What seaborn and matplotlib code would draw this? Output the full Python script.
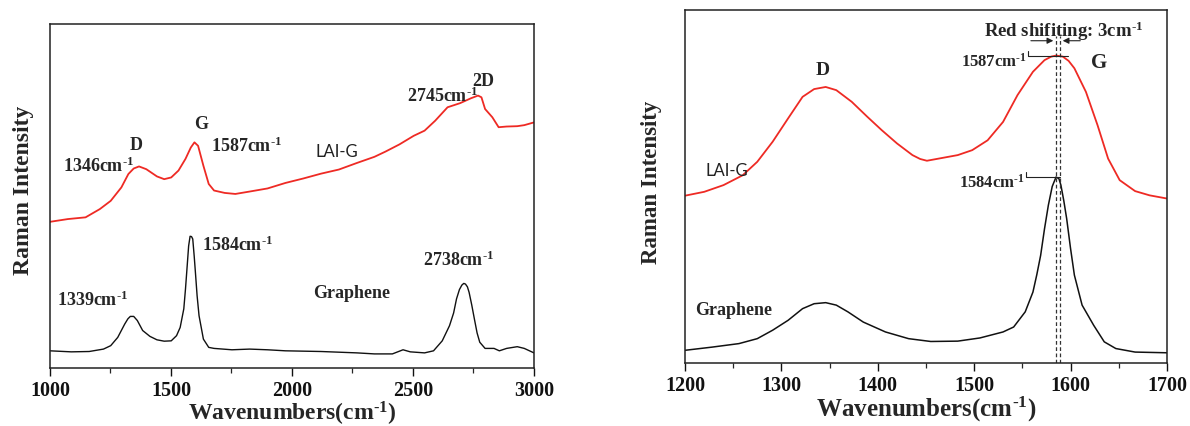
import numpy as np
import matplotlib
matplotlib.use("Agg")
import matplotlib.pyplot as plt
import seaborn as sns

# ---- left panel: full Raman spectra (1000-3000 cm-1), intensity in arbitrary units
full_wn_lai = [1000, 1074, 1147, 1206, 1251, 1295, 1324, 1346, 1368, 1398, 1442, 1472,
               1501, 1531, 1560, 1582, 1597, 1612, 1634, 1656, 1678, 1722, 1766, 1825,
               1899, 1973, 2047, 2120, 2194, 2268, 2341, 2386, 2444, 2503, 2548, 2592,
               2643, 2695, 2739, 2769, 2783, 2798, 2828, 2854, 2887, 2931, 2960, 3000]
full_int_lai = [42.5, 43.3, 43.8, 46.2, 48.6, 52.5, 56.4, 58.0, 58.6, 57.8, 55.7, 54.9,
                55.4, 57.4, 60.8, 64.1, 65.6, 64.6, 58.8, 53.5, 51.6, 50.9, 50.6, 51.3,
                52.2, 53.8, 55.1, 56.5, 57.7, 59.6, 61.4, 62.9, 65.0, 67.5, 69.0, 71.9,
                75.8, 77.0, 78.4, 79.2, 78.7, 75.3, 72.9, 70.0, 70.2, 70.3, 70.6, 71.4]

full_wn_gr = [1000, 1088, 1162, 1221, 1251, 1280, 1309, 1322, 1332, 1346, 1361, 1383, 1413,
              1442, 1472, 1501, 1523, 1538, 1553, 1560, 1567, 1573, 1579, 1585, 1590, 1596,
              1601, 1608, 1616, 1634, 1656, 1678, 1752, 1825, 1899, 1973, 2120, 2268, 2341,
              2415, 2459, 2489, 2548, 2585, 2621, 2651, 2668, 2680, 2692, 2702, 2710, 2717,
              2725, 2732, 2743, 2754, 2765, 2776, 2798, 2835, 2857, 2887, 2931, 2960, 3000]
full_int_gr = [5.0, 4.7, 4.8, 5.5, 6.5, 8.9, 12.8, 14.3, 15.0, 15.0, 13.8, 10.9, 9.2,
               8.2, 7.8, 7.9, 9.4, 11.8, 17.2, 23.0, 29.7, 35.5, 38.3, 38.2, 37.5, 32.5,
               27.8, 21.0, 15.2, 8.4, 6.0, 5.7, 5.3, 5.5, 5.3, 5.0, 4.8, 4.4, 4.1,
               4.1, 5.3, 4.7, 4.4, 5.0, 7.9, 12.3, 16.0, 20.1, 22.8, 24.1, 24.6, 24.4,
               23.6, 22.0, 18.3, 14.2, 10.2, 7.5, 5.7, 5.7, 5.0, 5.7, 6.2, 5.7, 4.4]

# ---- right panel: D/G region (1200-1700 cm-1)
zoom_wn_lai = [1200, 1220, 1240, 1260, 1275, 1291, 1307, 1322, 1334, 1346, 1357, 1373,
               1389, 1404, 1420, 1436, 1444, 1451, 1463, 1483, 1498, 1514, 1530, 1545, 1561,
               1573, 1580, 1585, 1592, 1598, 1604, 1616, 1628, 1639, 1651, 1667, 1682, 1700]
zoom_int_lai = [47.4, 48.5, 50.4, 53.2, 57.0, 62.7, 69.3, 75.4, 77.6, 78.2, 77.3, 74.0,
                69.8, 66.0, 62.2, 58.9, 57.8, 57.3, 57.9, 58.9, 60.3, 63.1, 68.3, 75.9, 82.5,
                85.8, 86.8, 87.1, 86.8, 85.6, 83.5, 76.8, 67.4, 57.9, 51.8, 48.7, 47.5, 46.6]

zoom_wn_gr = [1200, 1228, 1256, 1275, 1291, 1307, 1322, 1334, 1346, 1357, 1369, 1385,
              1408, 1432, 1455, 1483, 1506, 1530, 1541, 1553, 1561, 1565, 1569, 1573, 1577,
              1581, 1585, 1588, 1590, 1593, 1596, 1600, 1604, 1612, 1624, 1635, 1647, 1667, 1700]
zoom_int_gr = [3.6, 4.5, 5.5, 6.9, 9.3, 12.1, 15.4, 16.8, 17.1, 16.4, 14.5, 11.6,
               8.8, 6.9, 6.1, 6.2, 7.1, 8.8, 10.2, 14.5, 20.1, 25.0, 30.5, 38.0, 44.7,
               50.0, 52.7, 52.2, 50.4, 46.0, 40.9, 32.5, 24.9, 16.4, 10.7, 6.0, 4.1, 3.1, 2.9]

# G peak positions (cm-1) used for the shift markers
g_peak_gr = 1584
g_peak_lai = 1587

sns.set_theme(style="ticks")
plt.rcParams.update({
    "font.family": ["Liberation Serif", "DejaVu Serif"],
    "font.weight": "bold",
    "mathtext.fontset": "custom",
    "mathtext.rm": "Liberation Serif:bold",
    "mathtext.it": "Liberation Serif:bold",
    "mathtext.bf": "Liberation Serif:bold",
    "mathtext.default": "rm",
    "axes.edgecolor": "#222222",
    "axes.linewidth": 1.1,
})

RED = "#ee2a24"
BLACK = "#111111"
CM = r"cm$^{\text{-}1}$"

fig = plt.figure(figsize=(11.9, 4.27), dpi=100)
ax1 = fig.add_axes([0.042, 0.1358, 0.4067, 0.8056])
ax2 = fig.add_axes([0.5756, 0.1475, 0.405, 0.8267])

sns.lineplot(x=full_wn_lai, y=full_int_lai, ax=ax1, color=RED, lw=1.3, estimator=None, sort=False)
sns.lineplot(x=full_wn_gr, y=full_int_gr, ax=ax1, color=BLACK, lw=1.0, estimator=None, sort=False)
sns.lineplot(x=zoom_wn_lai, y=zoom_int_lai, ax=ax2, color=RED, lw=1.3, estimator=None, sort=False)
sns.lineplot(x=zoom_wn_gr, y=zoom_int_gr, ax=ax2, color=BLACK, lw=1.1, estimator=None, sort=False)

for ax, (lo, hi), major, minor, lsize in [(ax1, (1000, 3000), 500, 250, 17),
                                          (ax2, (1200, 1700), 100, 50, 18)]:
    ax.set_xlim(lo, hi)
    ax.set_ylim(0, 100)
    ax.set_xticks(np.arange(lo, hi + 1, major))
    ax.set_xticks(np.arange(lo, hi + 1, minor), minor=True)
    ax.set_yticks([])
    ax.tick_params(axis="x", which="major", direction="out", length=5.5, width=1.0,
                   labelsize=14.5, pad=3, colors="#111111")
    ax.tick_params(axis="x", which="minor", direction="out", length=3.5, width=0.9)
    for lab in ax.get_xticklabels():
        lab.set_fontweight("bold")
    for s in ax.spines.values():
        s.set_visible(True)
    ax.set_xlabel("Wavenumbers(" + CM + ")", fontsize=lsize, fontweight="bold", labelpad=-1)

ax1.set_ylabel("Raman Intensity", fontsize=17, fontweight="bold")
ax1.yaxis.set_label_coords(-0.034, 0.52)
ax2.set_ylabel("Raman Intensity", fontsize=16.5, fontweight="bold")
ax2.yaxis.set_label_coords(-0.048, 0.515)

# ---- left panel annotations
ann = dict(fontsize=13, fontweight="bold", ha="center", va="center")
ax1.text(1354, 64.9, "D", **ann)
ax1.text(1623, 71.2, "G", **ann)
ax1.text(2791, 83.5, "2D", **ann)
ax1.text(1199, 58.8, "1346" + CM, **ann)
ax1.text(1811, 64.6, "1587" + CM, **ann)
ax1.text(2621, 79.4, "2745" + CM, **ann)
ax1.text(1774, 36.0, "1584" + CM, **ann)
ax1.text(1177, 20.1, "1339" + CM, **ann)
ax1.text(2687, 31.7, "2738" + CM, **ann)
ax1.text(2245, 22.0, "Graphene", **ann)
ax1.text(2186, 63.2, "LAI-G", fontsize=12, fontweight="normal", family=["Lato", "DejaVu Sans"],
         ha="center", va="center", color="#222222")

# ---- right panel annotations
ax2.vlines([g_peak_gr + 1, g_peak_lai + 2], 0, 92.6, colors="#333333", lw=0.9,
           linestyles=(0, (3, 2)))
ax2.annotate("", xy=(g_peak_gr + 1, 91.3), xytext=(1556, 91.3),
             arrowprops=dict(arrowstyle="-|>", color="#222222", lw=0.8, mutation_scale=9))
ax2.annotate("", xy=(g_peak_lai + 2, 91.3), xytext=(1613, 91.3),
             arrowprops=dict(arrowstyle="-|>", color="#222222", lw=0.8, mutation_scale=9))
ax2.plot([1556, 1556, 1597], [88.5, 87.0, 87.0], color="#222222", lw=0.8)
ax2.plot([1554, 1554, 1589], [54.0, 52.6, 52.6], color="#222222", lw=0.8)
ax2.text(1593, 94.3, "Red shifiting: 3" + CM, fontsize=13.5, fontweight="bold", ha="center", va="center")
ax2.text(1555, 85.6, "1587" + CM, fontsize=12, fontweight="bold", ha="right", va="center")
ax2.text(1553, 51.4, "1584" + CM, fontsize=12, fontweight="bold", ha="right", va="center")
ax2.text(1630, 85.2, "G", fontsize=15, fontweight="bold", ha="center", va="center")
ax2.text(1343, 83.1, "D", fontsize=14, fontweight="bold", ha="center", va="center")
ax2.text(1250, 15.3, "Graphene", fontsize=13, fontweight="bold", ha="center", va="center")
ax2.text(1243.6, 54.8, "LAI-G", fontsize=12, fontweight="normal", family=["Lato", "DejaVu Sans"],
         ha="center", va="center", color="#222222")

fig.savefig("out.png", dpi=100)
